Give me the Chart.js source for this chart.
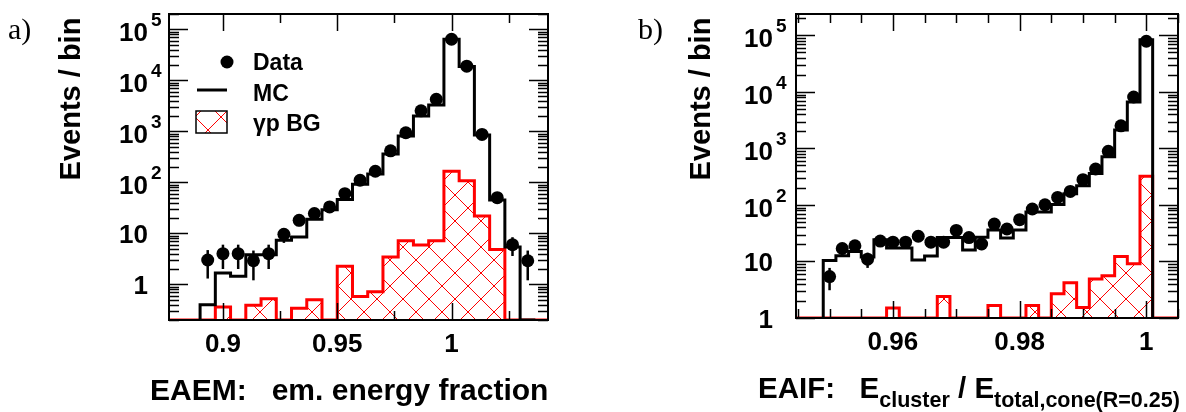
<!DOCTYPE html>
<html>
<head>
<meta charset="utf-8">
<script src="https://cdn.jsdelivr.net/npm/chart.js@4.4.1/dist/chart.umd.min.js"></script>
<style>
  html, body { margin: 0; padding: 0; background: #fff; }
  body { width: 1186px; height: 412px; position: relative; overflow: hidden; }
  canvas { position: absolute; top: 0; }
  #eaem { left: 0; }
  #eaif { left: 593px; }
</style>
</head>
<body>
<canvas id="eaem" width="593" height="412"></canvas>
<canvas id="eaif" width="593" height="412"></canvas>
<script>
// ---- a) EAEM: electromagnetic energy fraction ----
const eaemEdges = [0.89000, 0.89667, 0.90333, 0.91000, 0.91667, 0.92333, 0.93000, 0.93667,
  0.94333, 0.95000, 0.95667, 0.96333, 0.97000, 0.97667, 0.98333, 0.99000, 0.99667,
  1.00333, 1.01000, 1.01667, 1.02333, 1.03000, 1.03667];
const eaemData = [3.0, 4.0, 4.0, 2.9, 4.0, 9.6, 18, 24.5, 33, 60, 110, 165, 415, 940,
  2530, 4260, 64000, 19000, 870, 50, 6.0, 2.9];
const eaemDataErr = [1.7, 2.0, 2.0, 1.7, 2.0, 3.1, 4.2, 4.9, 5.7, 7.7, 10.5, 12.8, 20,
  31, 50, 65, 253, 138, 29.5, 7.1, 2.4, 1.7];
const eaemMC = [0.4, 1.67, 1.44, 3.8, 3.8, 7.3, 8.5, 19, 29, 46, 92, 145, 360, 810,
  2000, 3300, 64000, 18600, 850, 45, 5.4, 0];
const eaemBG = [0, 0.36, 0, 0.39, 0.52, 0, 0.34, 0.50, 0, 2.26, 0.58, 0.72, 3.44, 7.2,
  5.9, 7.2, 165, 107, 22, 4.8, 0, 0];
const eaemTickValues = [0.9, 0.95, 1.0];
const eaemTickLabels = ['0.9', '0.95', '1'];

// ---- b) EAIF: cluster energy over total cone energy ----
const eaifEdges = [0.949, 0.951, 0.953, 0.955, 0.957, 0.959, 0.961, 0.963, 0.965, 0.967,
  0.969, 0.971, 0.973, 0.975, 0.977, 0.979, 0.981, 0.983, 0.985, 0.987, 0.989, 0.991,
  0.993, 0.995, 0.997, 0.999, 1.001];
const eaifData = [5.4, 17, 19, 11, 23, 22, 22, 28, 22, 22, 35.5, 26.5, 20.4, 46, 37.6,
  55, 85, 101, 136, 174, 281, 434, 890, 2520, 8150, 79000];
const eaifDataErr = [2.3, 4.1, 4.4, 3.3, 4.8, 4.7, 4.7, 5.3, 4.7, 4.7, 6.0, 5.1, 4.5,
  6.8, 6.1, 7.4, 9.2, 10, 11.7, 13.2, 16.8, 20.8, 29.8, 50, 90, 281];
const eaifMC = [10.4, 12.7, 15, 12, 24.3, 17.4, 17.4, 10.6, 12.5, 26.7, 26.7, 16, 26.8,
  36, 26, 36, 75, 75, 102, 158, 220, 362, 715, 2120, 6650, 84000];
const eaifBG = [0, 0, 0, 0, 0, 1.5, 0, 0, 0, 2.4, 0, 0, 0, 1.67, 0, 0, 1.67, 0, 2.7,
  4.2, 1.54, 4.9, 5.6, 12.3, 9.1, 322];
const eaifTickValues = [0.96, 0.98, 1.0];
const eaifTickLabels = ['0.96', '0.98', '1'];

// ---- shared y axis labels (log scale) ----
const decadeValues = [1, 10, 100, 1000, 10000, 100000];
const decadeLabels = ['1', '10', '10^2', '10^3', '10^4', '10^5'];

const legendLabels = ['Data', 'MC', '\u03b3p BG'];

const FONT = '"Liberation Sans", Arial, Helvetica, sans-serif';

// Cross-hatch fill used by the background histogram
function crossHatch(color) {
  const s = 26;
  const tile = document.createElement('canvas');
  tile.width = s; tile.height = s;
  const g = tile.getContext('2d');
  g.strokeStyle = color;
  g.lineWidth = 1;
  g.beginPath();
  g.moveTo(-1, -1); g.lineTo(s + 1, s + 1);
  g.moveTo(s + 1, -1); g.lineTo(-1, s + 1);
  g.stroke();
  return g.createPattern(tile, 'repeat');
}

// Outline of a histogram as a polyline over its bin edges
function histPath(edges, values, floor, xFrom, xTo) {
  const pts = [];
  if (xFrom !== undefined) pts.push({ x: xFrom, y: floor });
  pts.push({ x: edges[0], y: floor });
  values.forEach((v, i) => {
    const y = Math.max(v, floor);
    pts.push({ x: edges[i], y: y });
    pts.push({ x: edges[i + 1], y: y });
  });
  pts.push({ x: edges[edges.length - 1], y: floor });
  if (xTo !== undefined) pts.push({ x: xTo, y: floor });
  return pts;
}

function binCenters(edges) {
  return edges.slice(0, -1).map((e, i) => (e + edges[i + 1]) / 2);
}

// Text runs with sub-/superscripts drawn along one baseline
function drawRuns(ctx, x, y, runs) {
  let cx = x;
  runs.forEach(r => {
    ctx.font = 'bold ' + r.size + 'px ' + FONT;
    ctx.textAlign = 'left';
    ctx.textBaseline = 'alphabetic';
    ctx.fillText(r.t, cx, y + (r.dy || 0));
    cx += ctx.measureText(r.t).width;
  });
}

function framePlugin(cfg) {
  return {
    id: 'rootFrame',
    afterDatasetsDraw(chart) {
      const ctx = chart.ctx, a = chart.chartArea;
      const xs = chart.scales.x, ys = chart.scales.y;
      ctx.save();

      // statistical error bars on the data points
      ctx.save();
      ctx.beginPath();
      ctx.rect(a.left, a.top, a.right - a.left, a.bottom - a.top);
      ctx.clip();
      ctx.strokeStyle = '#000';
      ctx.lineWidth = 2.5;
      binCenters(cfg.edges).forEach((c, i) => {
        const v = cfg.data[i], e = cfg.err[i];
        const px = xs.getPixelForValue(c);
        const lo = Math.max(v - e, ys.min * 0.5);
        ctx.beginPath();
        ctx.moveTo(px, ys.getPixelForValue(lo));
        ctx.lineTo(px, ys.getPixelForValue(v + e));
        ctx.stroke();
      });
      ctx.restore();

      // frame
      ctx.strokeStyle = '#000';
      ctx.lineWidth = 2;
      ctx.strokeRect(a.left, a.top, a.right - a.left, a.bottom - a.top);

      // y ticks (log), on both sides pointing inwards
      ctx.lineWidth = 1.5;
      const d0 = Math.floor(Math.log10(ys.min)), d1 = Math.ceil(Math.log10(ys.max));
      for (let d = d0; d <= d1; d++) {
        for (let m = 1; m <= 9; m++) {
          const v = m * Math.pow(10, d);
          if (v < ys.min * 0.999 || v > ys.max) continue;
          const py = Math.round(ys.getPixelForValue(v)) + 0.5;
          const len = m === 1 ? 19 : 10;
          ctx.beginPath();
          ctx.moveTo(a.left, py); ctx.lineTo(a.left + len, py);
          ctx.moveTo(a.right, py); ctx.lineTo(a.right - len, py);
          ctx.stroke();
        }
      }

      // x ticks, top and bottom pointing inwards
      const i0 = Math.ceil(xs.min / cfg.xStep - 1e-6), i1 = Math.floor(xs.max / cfg.xStep + 1e-6);
      for (let i = i0; i <= i1; i++) {
        const px = Math.round(xs.getPixelForValue(i * cfg.xStep)) + 0.5;
        const len = (i % cfg.xMajorEvery === 0) ? 17 : 9;
        ctx.beginPath();
        ctx.moveTo(px, a.bottom); ctx.lineTo(px, a.bottom - len);
        ctx.moveTo(px, a.top); ctx.lineTo(px, a.top + len);
        ctx.stroke();
      }

      ctx.fillStyle = '#000';
      // x tick labels
      ctx.font = 'bold 26px ' + FONT;
      ctx.textAlign = 'center';
      ctx.textBaseline = 'alphabetic';
      cfg.xTickValues.forEach((v, i) => {
        ctx.fillText(cfg.xTickLabels[i], xs.getPixelForValue(v), a.bottom + 32);
      });

      // y tick labels with exponents
      const rx = a.left - cfg.yLabelGap;
      decadeValues.forEach((v, i) => {
        if (v < ys.min * 0.999 || v > ys.max) return;
        const py = ys.getPixelForValue(v);
        const parts = decadeLabels[i].split('^');
        ctx.font = 'bold 26px ' + FONT;
        ctx.textAlign = 'right';
        if (parts.length === 1) {
          ctx.fillText(parts[0], rx, py + 10);
        } else {
          ctx.fillText(parts[0], rx, py + 12);
          ctx.font = 'bold 19px ' + FONT;
          ctx.textAlign = 'left';
          ctx.fillText(parts[1], rx + 3, py - 3);
        }
      });

      // y title
      ctx.save();
      ctx.translate(cfg.yTitleX, cfg.yTitleY);
      ctx.rotate(-Math.PI / 2);
      ctx.font = 'bold 29px ' + FONT;
      ctx.textAlign = 'center';
      ctx.textBaseline = 'middle';
      ctx.fillText('Events / bin', 0, 0);
      ctx.restore();

      // x title
      drawRuns(ctx, cfg.xTitleX, cfg.xTitleY, cfg.xTitle);

      // panel tag
      ctx.font = '30px "Liberation Serif", "DejaVu Serif", serif';
      ctx.textAlign = 'left';
      ctx.fillText(cfg.tag, cfg.tagX, 39);

      if (cfg.legend) drawLegend(ctx, cfg.hatch);
      ctx.restore();
    }
  };
}

function drawLegend(ctx, pattern) {
  // Data marker
  ctx.fillStyle = '#000';
  ctx.beginPath();
  ctx.arc(227, 62, 6.5, 0, Math.PI * 2);
  ctx.fill();
  // MC line
  ctx.strokeStyle = '#000';
  ctx.lineWidth = 3;
  ctx.beginPath();
  ctx.moveTo(197, 90); ctx.lineTo(227, 90);
  ctx.stroke();
  // BG hatched box
  ctx.fillStyle = pattern;
  ctx.fillRect(196, 111, 31, 22);
  ctx.strokeStyle = '#000';
  ctx.lineWidth = 1.5;
  ctx.strokeRect(196, 111, 31, 22);
  ctx.fillStyle = '#000';
  ctx.font = 'bold 23px ' + FONT;
  ctx.textAlign = 'left';
  ctx.textBaseline = 'alphabetic';
  ctx.fillText(legendLabels[0], 253, 70);
  ctx.fillText(legendLabels[1], 253, 101);
  ctx.fillText(legendLabels[2], 253, 131);
}

function buildChart(id, p) {
  const hatch = crossHatch('#ff0000');
  const centers = binCenters(p.edges);
  return new Chart(document.getElementById(id), {
    type: 'line',
    data: {
      datasets: [
        {
          label: 'Data',
          data: centers.map((c, i) => ({ x: c, y: p.data[i] })),
          showLine: false,
          pointRadius: 6.5,
          pointBackgroundColor: '#000',
          pointBorderWidth: 0,
          pointBorderColor: '#000'
        },
        {
          label: 'MC',
          data: histPath(p.edges, p.mc, p.yMin),
          borderColor: '#000',
          borderWidth: 3,
          pointRadius: 0,
          fill: false,
          tension: 0
        },
        {
          label: '\u03b3p BG',
          data: histPath(p.edges, p.bg, p.yMin, p.xMin, p.xMax),
          borderColor: '#ff0000',
          borderWidth: 3,
          pointRadius: 0,
          backgroundColor: hatch,
          fill: 'start',
          tension: 0
        }
      ]
    },
    options: {
      responsive: false,
      animation: false,
      devicePixelRatio: 1,
      events: [],
      parsing: false,
      layout: { padding: p.padding },
      scales: {
        x: { type: 'linear', min: p.xMin, max: p.xMax, display: false },
        y: { type: 'logarithmic', min: p.yMin, max: p.yMax, display: false }
      },
      plugins: { legend: { display: false }, tooltip: { enabled: false } }
    },
    plugins: [framePlugin({
      edges: p.edges, data: p.data, err: p.err,
      xStep: p.xStep, xMajorEvery: p.xMajorEvery,
      xTickValues: p.xTickValues, xTickLabels: p.xTickLabels,
      yLabelGap: p.yLabelGap, yTitleX: p.yTitleX, yTitleY: 99,
      xTitle: p.xTitle, xTitleX: p.xTitleX, xTitleY: p.xTitleY,
      tag: p.tag, tagX: p.tagX, legend: p.legend, hatch: hatch
    })]
  });
}

buildChart('eaem', {
  edges: eaemEdges, data: eaemData, err: eaemDataErr, mc: eaemMC, bg: eaemBG,
  xMin: 0.8764, xMax: 1.0422, yMin: 0.2, yMax: 2e5,
  padding: { left: 169, right: 45, top: 14, bottom: 92 },
  xStep: 0.025, xMajorEvery: 2,
  xTickValues: eaemTickValues, xTickLabels: eaemTickLabels,
  yLabelGap: 21, yTitleX: 72,
  xTitle: [{ t: 'EAEM:   em. energy fraction', size: 30 }], xTitleX: 150, xTitleY: 400,
  tag: 'a)', tagX: 8, legend: true
});

buildChart('eaif', {
  edges: eaifEdges, data: eaifData, err: eaifDataErr, mc: eaifMC, bg: eaifBG,
  xMin: 0.9447, xMax: 1.005, yMin: 1, yMax: 2.4e5,
  padding: { left: 203, right: 8, top: 14, bottom: 94 },
  xStep: 0.005, xMajorEvery: 4,
  xTickValues: eaifTickValues, xTickLabels: eaifTickLabels,
  yLabelGap: 23, yTitleX: 109,
  xTitle: [
    { t: 'EAIF:   E', size: 29.5 },
    { t: 'cluster', size: 21.5, dy: 9 },
    { t: ' / E', size: 29.5 },
    { t: 'total,cone(R=0.25)', size: 21.5, dy: 9 }
  ], xTitleX: 165, xTitleY: 398,
  tag: 'b)', tagX: 45, legend: false
});
</script>
</body>
</html>
